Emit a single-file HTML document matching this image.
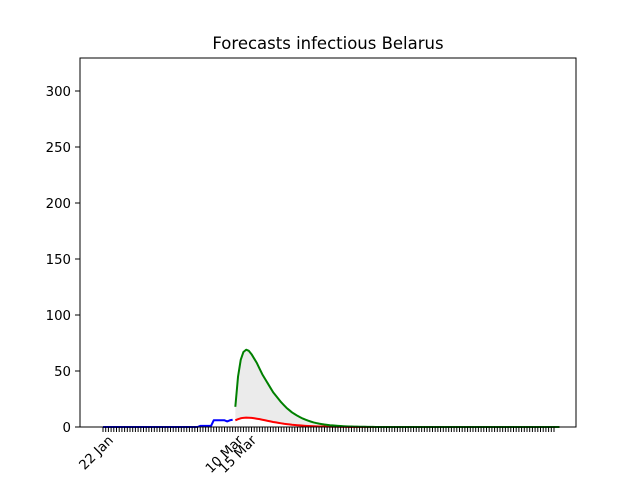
<!DOCTYPE html>
<html><head><meta charset="utf-8"><style>
html,body{margin:0;padding:0;background:#fff;}
svg{display:block;font-family:"DejaVu Sans","Liberation Sans",sans-serif;}
</style></head><body>
<svg id="chart" width="640" height="480" viewBox="0 0 640 480" xmlns="http://www.w3.org/2000/svg">
<rect width="640" height="480" fill="#fff"/>
<text x="328" y="49" font-size="16.5" text-anchor="middle">Forecasts infectious Belarus</text>
<g id="plot"></g>
</svg>
<script>
const yTicks = [0, 50, 100, 150, 200, 250, 300];
const xLabelDays = [0, 48, 53];
const xLabels = ["22 Jan", "10 Mar", "15 Mar"];
const nDays = 168;
const observedStart = 0;
const observed = [0,0,0,0,0,0,0,0,0,0,0,0,0,0,0,0,0,0,0,0,0,0,0,0,0,0,0,0,0,0,0,0,0,0,0,0,1,1,1,1,1,6,6,6,6,6,5,6,6.5];
const forecastStart = 49;
const upper = [18,45,60,67,69,68,65,61,57,52,47,43,39,35,31,28,25,22,19.5,17,15,13,11.5,10,8.7,7.5,6.5,5.6,4.8,4.1,3.5,3,2.6,2.2,1.9,1.6,1.4,1.2,1,0.85,0.7,0.6,0.5,0.4,0.35,0.3,0.25,0.2,0.17,0.14,0.12,0.1,0,0,0,0,0,0,0,0,0,0,0,0,0,0,0,0,0,0,0,0,0,0,0,0,0,0,0,0,0,0,0,0,0,0,0,0,0,0,0,0,0,0,0,0,0,0,0,0,0,0,0,0,0,0,0,0,0,0,0,0,0,0,0,0,0,0,0,0,0];
const lower = [6,7,7.8,8.2,8.4,8.3,8.1,7.8,7.4,7,6.5,6,5.5,5,4.5,4.1,3.7,3.3,2.9,2.6,2.3,2,1.8,1.6,1.4,1.2,1.05,0.9,0.8,0.7,0.6,0.5,0.45,0.4,0.35,0.3,0.25,0.2,0.18,0.15,0.12,0.1,0,0,0,0,0,0,0,0,0,0,0,0,0,0,0,0,0,0,0,0,0,0,0,0,0,0,0,0,0,0,0,0,0,0,0,0,0,0,0,0,0,0,0,0,0,0,0,0,0,0,0,0,0,0,0,0,0,0,0,0,0,0,0,0,0,0,0,0,0,0,0,0,0,0,0,0,0,0,0];

const L=80,R=576,T=58,B=427;
const X0=103,DX=(554-103)/167;
const x=d=>X0+d*DX;
const y=v=>B-v*(336/300);
const NS="http://www.w3.org/2000/svg";
const g=document.getElementById('plot');
function mk(tag,attrs){const e=document.createElementNS(NS,tag);for(const k in attrs)e.setAttribute(k,attrs[k]);g.appendChild(e);return e;}

let pts=[];
for(let i=0;i<upper.length;i++)pts.push(x(forecastStart+i)+','+y(upper[i]));
for(let i=lower.length-1;i>=0;i--)pts.push(x(forecastStart+i)+','+y(lower[i]));
const band=mk('polygon',{points:pts.join(' '),fill:'#ebebeb',stroke:'none'});



function line(arr,start,color,name){
  const p=arr.map((v,i)=>x(start+i)+','+y(v)).join(' ');
  const e=mk('polyline',{points:p,fill:'none',stroke:color,'stroke-width':2,'stroke-linejoin':'round'});
  
  
}
line(lower,forecastStart,'#ff0000','lower-forecast-line');
line(upper,forecastStart,'#008000','upper-forecast-line');
line(observed,observedStart,'#0000ff','observed-line');

const frame=mk('rect',{x:L,y:T,width:R-L,height:B-T,fill:'none',stroke:'#000','stroke-width':1});



yTicks.forEach(v=>{
  const t=mk('line',{x1:L-5,x2:L,y1:y(v),y2:y(v),stroke:'#000','stroke-width':1});
  
  
  const tx=mk('text',{x:L-9,y:y(v)+5,'font-size':13.3,'text-anchor':'end'});
  tx.textContent=v;
  
  
});
for(let d=0;d<nDays;d++){
  const t=mk('line',{x1:x(d),x2:x(d),y1:B,y2:B+5,stroke:'#000','stroke-width':1});
  
  
}
xLabelDays.forEach((d,i)=>{
  const ax=x(d)+11, ay=B+14;
  const tx=mk('text',{x:ax,y:ay,'font-size':13.3,'text-anchor':'end',transform:`rotate(-45 ${ax} ${ay})`});
  tx.textContent=xLabels[i];
  
  
});
</script>
</body></html>
